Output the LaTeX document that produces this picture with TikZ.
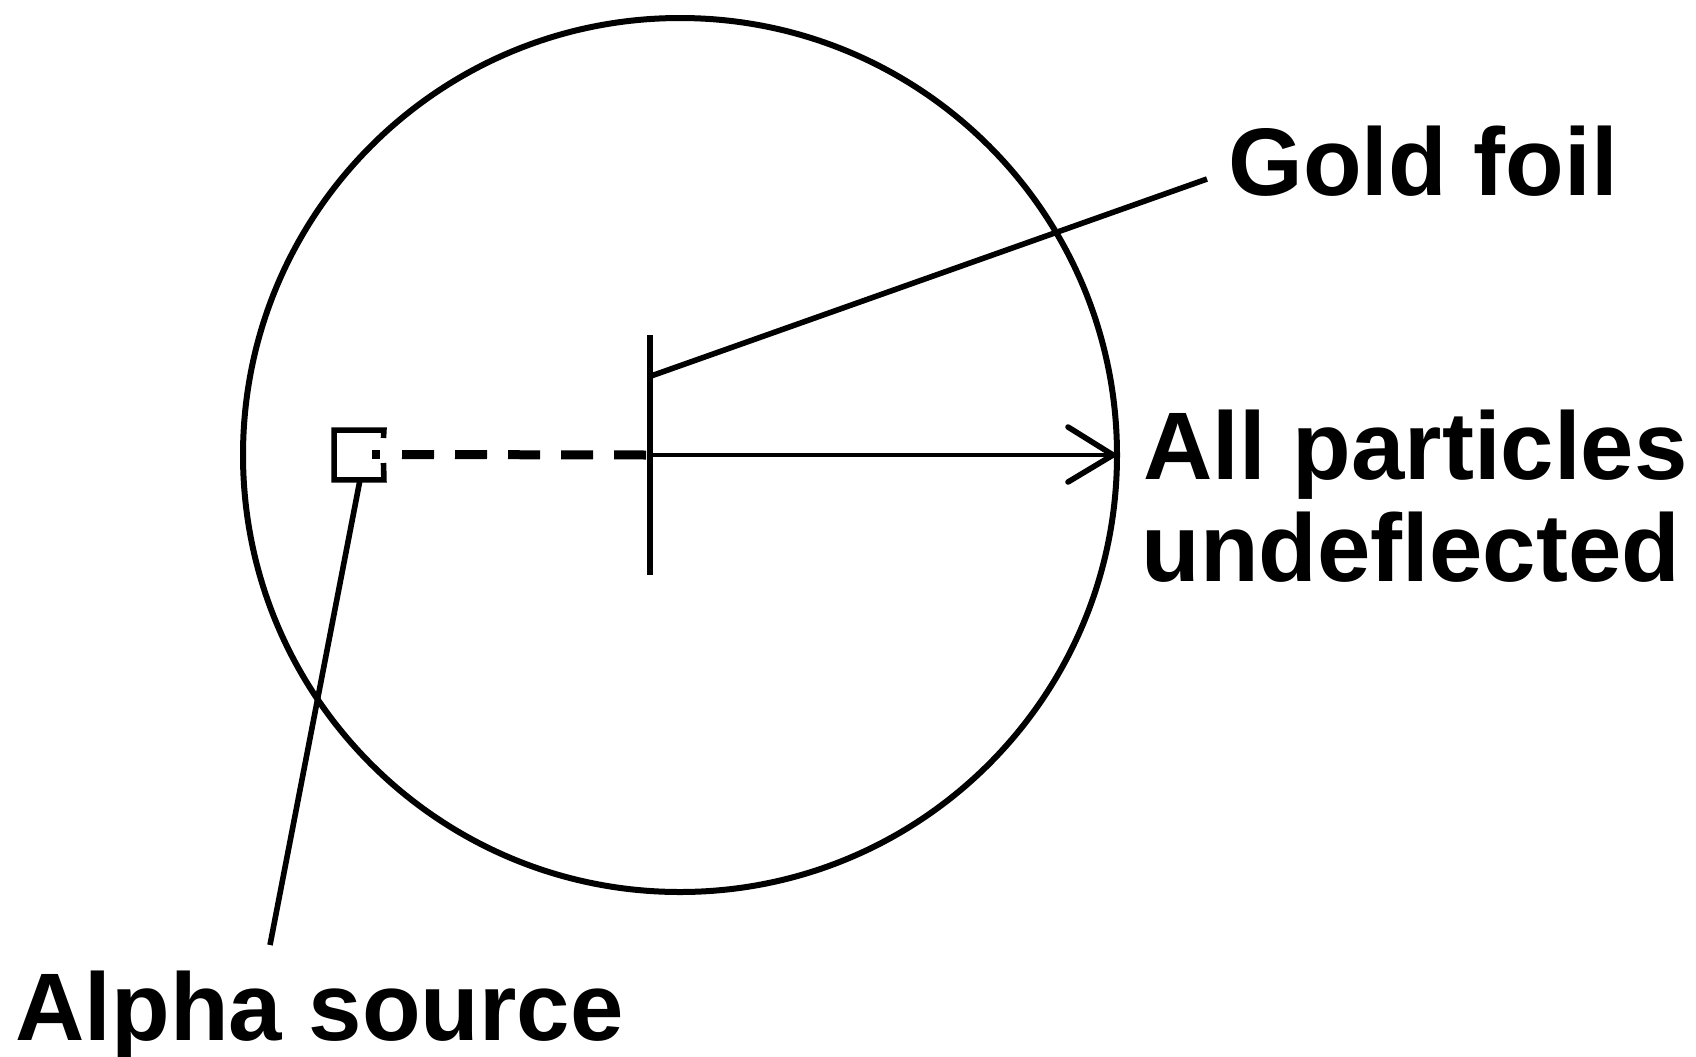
\documentclass[tikz,border=0pt]{standalone}
\usepackage{fontspec}
\setmainfont{Liberation Sans}
\begin{document}
\begin{tikzpicture}[x=0.5pt,y=-0.5pt,
  thick line/.style={line width=2.8pt},
  lbl/.style={inner sep=0pt, anchor=base west, font=\fontsize{48}{51}\selectfont\bfseries}]
\useasboundingbox (0,0) rectangle (1696,1056);
% apparatus circle
\draw[line width=3pt] (680,455) circle (437);
% alpha source box (right edge broken where the beam leaves)
\node[inner sep=0pt, minimum width=24.5pt, minimum height=24.5pt] (src) at (359,455) {};
\draw[thick line, line join=miter] (383.5,438) -- (src.north east) -- (src.north west) -- (src.south west) -- (src.south east) -- (383.5,463);
\draw[line width=4.5pt] (372,454.5) -- (380,454.5);
% gold foil
\coordinate (foilT) at (650,335);
\coordinate (foilB) at (650,575);
\coordinate (foilM) at (650,455);
\coordinate (foilL) at (651,376);
\draw[line width=3pt] (foilT) -- (foilB);
% dashed incoming beam
\coordinate (beamS) at (402,454.5);
\draw[line width=4.5pt, dash pattern=on 16pt off 10.5pt] (beamS) -- (foilM);
% outgoing beam with open arrowhead
\coordinate (tip) at (1113,455);
\coordinate (armU) at (1068,427);
\coordinate (armD) at (1068,482);
\draw[line width=2.2pt] (foilM) -- (tip);
\draw[thick line, line cap=round, line join=round] (armU) -- (tip) -- (armD);
% labels
\node[lbl] (gold) at (1228,195) {Gold foil};
\node[lbl] (allp) at (1143,479) {All particles};
\node[lbl] (undef) at (1141,581) {undeflected};
\node[lbl] (alpha) at (15,1040) {Alpha source};
% leaders
\coordinate (goldEnd) at (1207,179);
\coordinate (alphaEnd) at (270,945);
\draw[thick line] (foilL) -- (goldEnd);
\draw[thick line] (src.south) ++(1,0) -- (alphaEnd);
\end{tikzpicture}
\end{document}
